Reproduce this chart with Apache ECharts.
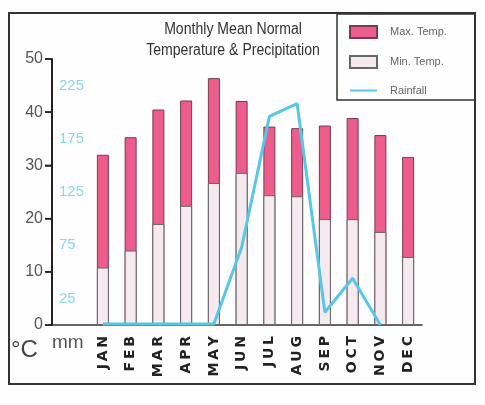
<!DOCTYPE html>
<html>
<head>
<meta charset="utf-8">
<script src="https://cdn.jsdelivr.net/npm/echarts@6/dist/echarts.min.js"></script>
<style>
  html, body { margin: 0; padding: 0; background: #fefefe; }
  #main { width: 485px; height: 405px; }
</style>
</head>
<body>
<div id="main"></div>
<script>
// months on the x axis
var months = ['JAN', 'FEB', 'MAR', 'APR', 'MAY', 'JUN', 'JUL', 'AUG', 'SEP', 'OCT', 'NOV', 'DEC']
// temperatures in °C
var maxTemp = [32, 35.3, 40.5, 42.2, 46.4, 42.1, 37.3, 37.0, 37.5, 38.9, 35.7, 31.6]
var minTemp = [10.8, 14.0, 19.0, 22.4, 26.7, 28.6, 24.4, 24.2, 19.9, 19.9, 17.5, 12.8]
// rainfall in mm (line stops at NOV)
var rainfall = [1, 1, 1, 1, 1, 73, 196, 208, 12, 44, 0, null]
// tick labels
var tempTicks = [0, 10, 20, 30, 40, 50]
var mmTicks = [25, 75, 125, 175, 225]

var sans = 'Liberation Sans, sans-serif'
var axisX = 52

var myChart = echarts.init(document.getElementById('main'))
myChart.setOption({
  backgroundColor: '#fefefe',
  animation: false,
  legend: {
    orient: 'vertical',
    left: 349,
    top: 25,
    padding: 0,
    itemWidth: 27,
    itemHeight: 12,
    itemGap: 16,
    textStyle: {
      color: '#666',
      fontSize: 11,
      fontFamily: sans,
      padding: [0, 0, 0, 8]
    },
    data: [
      { name: 'Max. Temp.', icon: 'rect' },
      { name: 'Min. Temp.', icon: 'rect' },
      { name: 'Rainfall', itemStyle: { opacity: 0 } }
    ]
  },
  grid: [
    // temperature axis + the long x axis line
    { left: axisX, right: 63, top: 59, bottom: 80 },
    // bars and line sit here
    { left: 89, right: 63, top: 59, bottom: 80 }
  ],
  xAxis: [
    {
      gridIndex: 0,
      type: 'category',
      data: [''],
      axisLine: { show: true, lineStyle: { color: '#333', width: 1.5 } },
      axisTick: { show: false },
      axisLabel: { show: false }
    },
    {
      gridIndex: 1,
      type: 'category',
      data: months,
      axisLine: { show: false },
      axisTick: { show: false },
      axisLabel: {
        rotate: 90,
        margin: 11,
        color: '#222',
        fontSize: 14,
        fontWeight: 'bold',
        fontFamily: 'DejaVu Sans, sans-serif',
        formatter: function (v) { return v.split('').join('\u2009') }
      }
    }
  ],
  yAxis: [
    {
      gridIndex: 0,
      type: 'value',
      min: 0,
      max: 50,
      interval: 10,
      z: 20,
      axisLine: { show: true, lineStyle: { color: '#222', width: 2 } },
      axisTick: { show: true, length: 7, lineStyle: { color: '#222', width: 1.5 } },
      axisLabel: { margin: 9, color: '#555', fontSize: 16, fontFamily: sans },
      splitLine: { show: false }
    },
    {
      gridIndex: 1,
      type: 'value',
      min: 0,
      max: 50,
      show: false
    },
    {
      // rainfall scale, labels pulled back next to the temperature axis
      gridIndex: 1,
      type: 'value',
      position: 'left',
      min: 0,
      max: 250,
      interval: 25,
      axisLine: { show: false },
      axisTick: { show: false },
      axisLabel: {
        inside: true,
        margin: -30,
        color: '#86dbe6',
        fontSize: 15,
        fontFamily: sans,
        formatter: function (v) { return mmTicks.indexOf(v) > -1 ? String(v) : '' }
      },
      splitLine: { show: false }
    }
  ],
  series: [
    {
      name: 'Max. Temp.',
      type: 'bar',
      xAxisIndex: 1,
      yAxisIndex: 1,
      barWidth: 12,
      barGap: '-100%',
      data: maxTemp,
      itemStyle: { color: '#ec5d8c', borderColor: '#7a3a50', borderWidth: 1 }
    },
    {
      name: 'Min. Temp.',
      type: 'bar',
      xAxisIndex: 1,
      yAxisIndex: 1,
      barWidth: 12,
      barGap: '-100%',
      data: minTemp,
      itemStyle: { color: '#f5eaf0', borderColor: '#666', borderWidth: 1 }
    },
    {
      name: 'Rainfall',
      type: 'line',
      xAxisIndex: 1,
      yAxisIndex: 2,
      data: rainfall,
      symbol: 'none',
      lineStyle: { color: '#55c8e8', width: 3 },
      itemStyle: { color: '#55c8e8' },
      z: 5
    }
  ],
  graphic: [
    {
      id: 'frame',
      type: 'rect',
      shape: { x: 9, y: 13, width: 466, height: 371 },
      style: { fill: null, stroke: '#333', lineWidth: 2 },
      silent: true
    },
    {
      id: 'legendBox',
      type: 'rect',
      shape: { x: 337, y: 14, width: 138, height: 86 },
      style: { fill: null, stroke: '#333', lineWidth: 1.5 },
      silent: true
    },
    {
      id: 'title',
      type: 'text',
      x: 233,
      y: 19,
      scaleX: 0.88,
      style: {
        text: 'Monthly Mean Normal\nTemperature & Precipitation',
        textAlign: 'center',
        fill: '#333',
        fontSize: 16,
        lineHeight: 21,
        fontFamily: sans
      }
    },
    {
      id: 'unitC',
      type: 'text',
      x: 11,
      y: 338,
      style: { text: '°C', fill: '#444', fontSize: 24, fontFamily: sans }
    },
    {
      id: 'unitMM',
      type: 'text',
      x: 52,
      y: 333,
      style: { text: 'mm', fill: '#555', fontSize: 19, fontFamily: sans }
    }
  ]
})

// backup for the temperature axis line and ticks, placed through the
// bars' own cartesian so they follow the same scale
function tempY (t) {
  return myChart.convertToPixel({ xAxisIndex: 1, yAxisIndex: 1 }, [0, t])[1]
}
var extra = []
extra.push({
  id: 'yLine',
  type: 'line',
  z: 100,
  shape: { x1: axisX, y1: tempY(50), x2: axisX, y2: tempY(0) },
  style: { stroke: '#222', lineWidth: 2 },
  silent: true
})
tempTicks.forEach(function (t) {
  var y = tempY(t)
  extra.push({
    id: 'yTick' + t,
    type: 'line',
    z: 100,
    shape: { x1: axisX - 7, y1: y, x2: axisX, y2: y },
    style: { stroke: '#222', lineWidth: 1.5 },
    silent: true
  })
})
myChart.setOption({ graphic: extra })
</script>
</body>
</html>
